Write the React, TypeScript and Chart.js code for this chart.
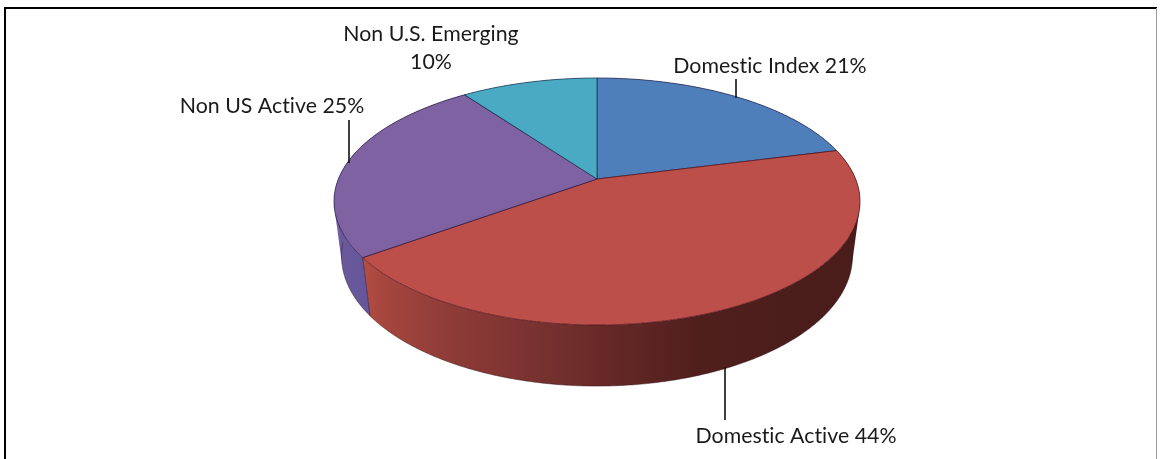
import React, { useEffect, useRef } from "react";
import { Chart, registerables } from "chart.js";

Chart.register(...registerables);

const categories = ["Domestic Index", "Domestic Active", "Non US Active", "Non U.S. Emerging"];
const shares = [21, 44, 25, 10];
const topColors = ["#4F7FBB", "#BD4F4B", "#7F62A1", "#4AAAC4"];
const edgeColors = ["rgba(35,35,75,0.8)", "rgba(85,20,30,0.85)", "rgba(35,25,65,0.8)", "rgba(30,45,75,0.8)"];
const wallStops: [number, string][][] = [
  [[0, "#3c6390"], [1, "#2e4d70"]],
  [[0, "#b34e42"], [0.04, "#a6463f"], [0.18, "#8e3b37"], [0.38, "#74302e"], [0.52, "#622725"], [0.68, "#4f1f1c"], [1, "#491d1a"]],
  [[0, "#7868aa"], [0.06, "#6a5a9c"], [1, "#64549a"]],
  [[0, "#3a8599"], [1, "#2d6a7a"]],
];
const labelLines = [
  ["Domestic Index 21%"],
  ["Domestic Active 44%"],
  ["Non US Active 25%"],
  ["Non U.S. Emerging", "10%"],
];
const labelX = [770, 796, 272, 431];
const labelY = [66, 436, 106, 34];
const leaderX = [736, 725, 349];
const leaderTop = [79, 367, 120];
const leaderBottom = [98, 420, 163];

const SQUASH = 0.4617;
const TILT = 0.182;
const DEPTH = 0.2162;
const RECEDE = 0.0286;

function project(cx: number, cy: number, R: number, theta: number, z: number): [number, number] {
  const u = Math.sin(theta);
  const v = -Math.cos(theta);
  const w = 1 / (1 - TILT * v + RECEDE * z);
  return [cx + R * u * w, cy + R * (SQUASH * v + DEPTH * z) * w];
}

const perspectivePie = {
  id: "perspectivePie",
  beforeDatasetDraw(chart: any) {
    const { ctx } = chart;
    const arcs = chart.getDatasetMeta(0).data;
    const cx = arcs[0].x;
    const cy = arcs[0].y;
    const R = arcs[0].outerRadius;
    const STEP = Math.PI / 360;
    ctx.save();

    // side wall of each slice: one path of equally wound quads, far slices first
    [0, 3, 2, 1].forEach((i) => {
      const a = arcs[i];
      const s = a.startAngle + Math.PI / 2;
      const e = a.endAngle + Math.PI / 2;
      const grad = ctx.createLinearGradient(i === 2 ? 338 : 363, 0, i === 2 ? 372 : 860, 0);
      wallStops[i].forEach(([o, c]) => grad.addColorStop(o, c));
      ctx.beginPath();
      for (let t = s; t < e; t += STEP) {
        const t2 = Math.min(t + STEP, e);
        const pts = [
          project(cx, cy, R, t, 0),
          project(cx, cy, R, t2, 0),
          project(cx, cy, R, t2, 1),
          project(cx, cy, R, t, 1),
        ];
        let area = 0;
        pts.forEach((p, n) => {
          const q = pts[(n + 1) % 4];
          area += p[0] * q[1] - q[0] * p[1];
        });
        const ordered = area < 0 ? pts.slice().reverse() : pts;
        ctx.moveTo(ordered[0][0], ordered[0][1]);
        ordered.slice(1).forEach((p) => ctx.lineTo(p[0], p[1]));
        ctx.closePath();
      }
      ctx.fillStyle = grad;
      ctx.fill();
    });

    // bottom rim of the wall and the vertical edge between walls
    ctx.strokeStyle = "rgba(50,15,20,0.6)";
    ctx.lineWidth = 0.8;
    ctx.beginPath();
    for (let t = Math.PI * 0.55; t <= Math.PI * 1.48; t += STEP) {
      const p = project(cx, cy, R, t, 1);
      if (t === Math.PI * 0.55) ctx.moveTo(p[0], p[1]);
      else ctx.lineTo(p[0], p[1]);
    }
    ctx.stroke();
    const edge = arcs[2].startAngle + Math.PI / 2;
    const eA = project(cx, cy, R, edge, 0);
    const eB = project(cx, cy, R, edge, 1);
    ctx.strokeStyle = "rgba(45,25,70,0.85)";
    ctx.beginPath();
    ctx.moveTo(eA[0], eA[1]);
    ctx.lineTo(eB[0], eB[1]);
    ctx.stroke();

    // top faces
    arcs.forEach((a: any, i: number) => {
      const s = a.startAngle + Math.PI / 2;
      const e = a.endAngle + Math.PI / 2;
      ctx.beginPath();
      ctx.moveTo(cx, cy);
      for (let t = s; ; t += STEP) {
        const tt = Math.min(t, e);
        const p = project(cx, cy, R, tt, 0);
        ctx.lineTo(p[0], p[1]);
        if (t >= e) break;
      }
      ctx.closePath();
      ctx.fillStyle = topColors[i];
      ctx.fill();
      ctx.strokeStyle = edgeColors[i];
      ctx.lineWidth = 0.9;
      ctx.stroke();
    });
    ctx.restore();
    return false;
  },
};

const annotations = {
  id: "annotations",
  afterDraw(chart: any) {
    const { ctx } = chart;
    ctx.save();
    // frame
    ctx.fillStyle = "#000";
    ctx.fillRect(4, 7, 1153, 2);
    ctx.fillRect(4, 7, 2, 452);
    ctx.fillStyle = "#9a9a9a";
    ctx.fillRect(1156, 8, 1, 451);
    // leaders
    ctx.strokeStyle = "#111";
    ctx.lineWidth = 1.6;
    leaderX.forEach((x, i) => {
      ctx.beginPath();
      ctx.moveTo(x, leaderTop[i]);
      ctx.lineTo(x, leaderBottom[i]);
      ctx.stroke();
    });
    // labels
    ctx.fillStyle = "#1a1a1a";
    ctx.font = '21.3px Lato, "Open Sans", sans-serif';
    (ctx as any).letterSpacing = "0.02px";
    ctx.textAlign = "center";
    ctx.textBaseline = "middle";
    labelLines.forEach((lines, i) => {
      lines.forEach((line, j) => ctx.fillText(line, labelX[i], labelY[i] + j * 28));
    });
    ctx.restore();
  },
};

export default function App() {
  const ref = useRef<HTMLCanvasElement>(null);
  useEffect(() => {
    document.body.style.margin = "0";
    document.body.style.background = "#fff";
    const chart = new Chart(ref.current!, {
      type: "pie",
      data: {
        labels: categories,
        datasets: [{ data: shares, backgroundColor: topColors, radius: 258.6, clip: false } as any],
      },
      options: {
        animation: false,
        responsive: false,
        events: [],
        layout: { padding: { left: 28, right: 0, top: 0, bottom: 101 } },
        plugins: { legend: { display: false }, tooltip: { enabled: false } },
      },
      plugins: [perspectivePie, annotations],
    });
    return () => chart.destroy();
  }, []);
  return (
    <canvas
      ref={ref}
      width={1166}
      height={459}
      style={{ display: "block", width: 1166, height: 459, filter: "blur(0.45px)" }}
    />
  );
}
